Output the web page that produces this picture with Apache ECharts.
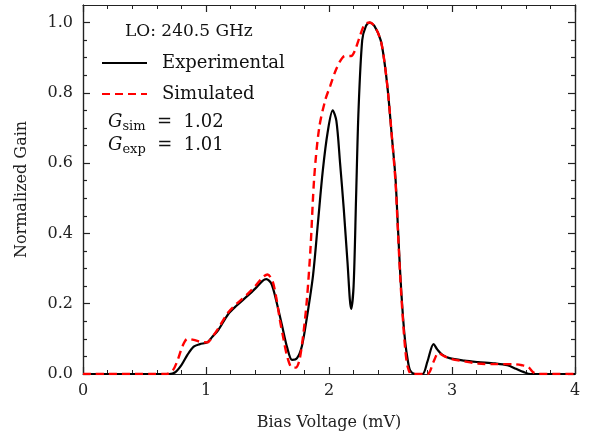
<!DOCTYPE html>
<html>
<head>
<meta charset="utf-8">
<script src="https://cdn.jsdelivr.net/npm/echarts@6/dist/echarts.min.js"></script>
<style>
  html, body { margin: 0; padding: 0; background: #fff; }
  #main { width: 592px; height: 439px; }
</style>
</head>
<body>
<div id="main"></div>
<script>
// bias voltage (mV) / normalized gain
var expX = [0, 0.70, 0.75, 0.80, 0.85, 0.90, 0.95, 1.01, 1.05, 1.10, 1.18, 1.25, 1.33, 1.40, 1.46, 1.49,
  1.53, 1.57, 1.62, 1.66, 1.70, 1.74, 1.78, 1.82, 1.87, 1.91, 1.95, 1.99, 2.03, 2.06, 2.09, 2.12, 2.15,
  2.18, 2.20, 2.22, 2.24, 2.27, 2.30, 2.33, 2.37, 2.42, 2.45, 2.48, 2.51, 2.54, 2.56, 2.58, 2.60, 2.62,
  2.64, 2.66, 2.70, 2.76, 2.80, 2.85, 2.88, 2.92, 2.98, 3.10, 3.21, 3.35, 3.45, 3.52, 3.58, 3.64, 4.0];
var expY = [0, 0, 0.005, 0.025, 0.055, 0.078, 0.085, 0.09, 0.105, 0.125, 0.17, 0.195, 0.22, 0.243, 0.265, 0.27,
  0.258, 0.21, 0.135, 0.075, 0.04, 0.045, 0.08, 0.16, 0.28, 0.43, 0.58, 0.69, 0.75, 0.72, 0.60, 0.47, 0.32,
  0.185, 0.25, 0.50, 0.75, 0.95, 0.99, 1.0, 0.99, 0.95, 0.89, 0.80, 0.68, 0.56, 0.42, 0.28, 0.17, 0.09,
  0.04, 0.01, 0, 0, 0.035, 0.085, 0.07, 0.055, 0.045, 0.038, 0.034, 0.03, 0.025, 0.015, 0.006, 0, 0];

var simX = [0, 0.68, 0.73, 0.77, 0.81, 0.85, 0.90, 0.95, 1.01, 1.05, 1.10, 1.18, 1.25, 1.33, 1.40, 1.46,
  1.50, 1.54, 1.57, 1.60, 1.63, 1.66, 1.70, 1.73, 1.76, 1.79, 1.82, 1.85, 1.88, 1.92, 1.97, 2.01, 2.05,
  2.09, 2.13, 2.18, 2.21, 2.25, 2.29, 2.33, 2.37, 2.42, 2.45, 2.48, 2.51, 2.54, 2.56, 2.58, 2.60, 2.62,
  2.64, 2.67, 2.80, 2.85, 2.89, 2.93, 2.99, 3.10, 3.21, 3.35, 3.50, 3.57, 3.62, 3.66, 3.70, 4.0];
var simY = [0, 0, 0.01, 0.04, 0.08, 0.10, 0.097, 0.092, 0.09, 0.105, 0.13, 0.175, 0.20, 0.225, 0.25, 0.275,
  0.283, 0.265, 0.22, 0.155, 0.10, 0.05, 0.018, 0.018, 0.04, 0.11, 0.21, 0.36, 0.56, 0.70, 0.78, 0.82, 0.86,
  0.89, 0.905, 0.905, 0.92, 0.96, 0.995, 1.0, 0.99, 0.95, 0.89, 0.80, 0.68, 0.55, 0.41, 0.27, 0.16, 0.07,
  0.02, 0, 0, 0.035, 0.06, 0.052, 0.043, 0.036, 0.03, 0.028, 0.028, 0.025, 0.02, 0.005, 0, 0];

var yMajor = [0, 0.2, 0.4, 0.6, 0.8, 1.0];
var yMinor = [0.05, 0.1, 0.15, 0.25, 0.3, 0.35, 0.45, 0.5, 0.55, 0.65, 0.7, 0.75, 0.85, 0.9, 0.95];

function pairs(xs, ys) {
  return xs.map(function (x, i) { return [x, ys[i]]; });
}

var FONT = 'DejaVu Serif';
var chart = echarts.init(document.getElementById('main'));

function xAx(pos, showLabel) {
  return {
    type: 'value', position: pos, min: 0, max: 4, interval: 1,
    name: showLabel ? 'Bias Voltage (mV)' : '',
    nameLocation: 'middle', nameGap: 41,
    nameTextStyle: { fontFamily: FONT, fontSize: 16, color: '#222' },
    axisLine: { show: true, onZero: false, lineStyle: { color: '#222', width: 1.2 } },
    axisTick: { show: true, inside: true, length: 7, lineStyle: { color: '#222', width: 1.2 } },
    minorTick: { show: true, splitNumber: 5, length: 4, lineStyle: { color: '#222', width: 1 } },
    axisLabel: { show: showLabel, margin: 9, fontFamily: FONT, fontSize: 16, color: '#222' },
    splitLine: { show: false }, minorSplitLine: { show: false }
  };
}

function yAx(pos, vals, len, showLabel) {
  return {
    type: 'value', position: pos, min: 0, max: 1.05,
    name: showLabel ? 'Normalized Gain' : '',
    nameLocation: 'middle', nameGap: 53,
    nameTextStyle: { fontFamily: FONT, fontSize: 16, color: '#222' },
    axisLine: { show: true, onZero: false, lineStyle: { color: '#222', width: 1.2 } },
    axisTick: { show: true, inside: true, length: len, customValues: vals, lineStyle: { color: '#222', width: 1.2 } },
    axisLabel: {
      show: showLabel, margin: 10, fontFamily: FONT, fontSize: 16, color: '#222',
      customValues: yMajor,
      formatter: function (v) { return v.toFixed(1); }
    },
    splitLine: { show: false }
  };
}

var gRich = {
  g: { fontFamily: FONT, fontStyle: 'italic', fontSize: 18, fill: '#111' },
  s: { fontFamily: FONT, fontSize: 13, fill: '#111', verticalAlign: 'bottom', padding: [9, 0, 0, 0] },
  t: { fontFamily: FONT, fontSize: 18, fill: '#111' }
};

chart.setOption({
  animation: false,
  backgroundColor: '#fff',
  grid: { left: 83, right: 17, top: 5, bottom: 65 },
  xAxis: [xAx('bottom', true), xAx('top', false)],
  yAxis: [
    yAx('left', yMajor, 7, true),
    yAx('left', yMinor, 4, false),
    yAx('right', yMajor, 7, false),
    yAx('right', yMinor, 4, false)
  ],
  legend: {
    orient: 'vertical', left: 101, top: 54, itemGap: 13, padding: 0,
    itemWidth: 45, itemHeight: 16,
    itemStyle: { opacity: 0 },
    textStyle: { fontFamily: FONT, fontSize: 18, color: '#111', padding: [0, 0, 0, 10] },
    data: ['Experimental', 'Simulated']
  },
  graphic: [
    { type: 'text', left: 125, top: 23, style: { text: 'LO: 240.5 GHz', font: '17px "DejaVu Serif"', fill: '#111' } },
    {
      type: 'text', left: 108, top: 113,
      style: { text: '{g|G}{s|sim}{t|  =  1.02}', rich: gRich }
    },
    {
      type: 'text', left: 108, top: 136,
      style: { text: '{g|G}{s|exp}{t|  =  1.01}', rich: gRich }
    }
  ],
  series: [
    {
      name: 'Experimental', type: 'line', data: pairs(expX, expY),
      smooth: 0.3, symbol: 'none', z: 3,
      itemStyle: { color: '#000' },
      lineStyle: { color: '#000', width: 2.2 }
    },
    {
      name: 'Simulated', type: 'line', data: pairs(simX, simY),
      smooth: 0.3, symbol: 'none', z: 4,
      itemStyle: { color: '#ff0000' },
      lineStyle: { color: '#ff0000', width: 2.4, type: [8, 5] }
    }
  ]
});
</script>
</body>
</html>
